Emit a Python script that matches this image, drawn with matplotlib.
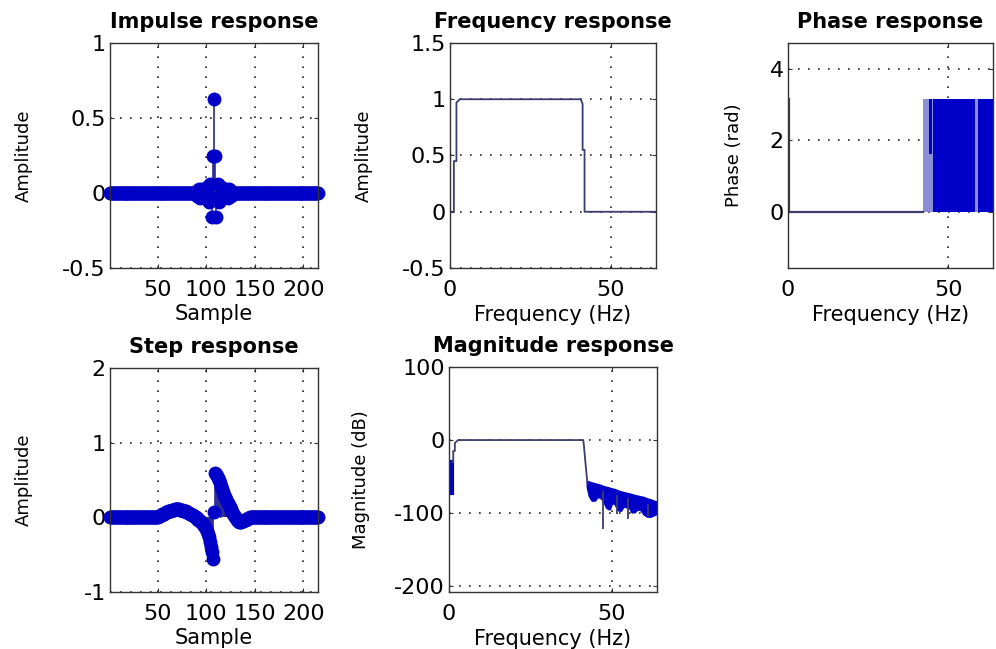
"""Filter analysis panels: impulse, step, frequency, magnitude and phase response."""

import matplotlib

matplotlib.use("Agg")
import matplotlib.pyplot as plt  # noqa: E402

# ---- data ----
n_taps = 215
samples = list(range(1, n_taps + 1))

# impulse response: samples 91..125, the rest sit on zero
impulse_core = [-0.02, 0.02, 0.03, -0.03, -0.02, 0.03, 0.01, -0.02, -0.03, 0.02, 0.04,
                -0.02, -0.06, 0.06, -0.03, -0.16, 0.25,
                0.63,
                0.25, -0.16, -0.03, 0.06, -0.06, -0.02, 0.04, 0.02, -0.03, -0.02, 0.01,
                0.03, -0.02, -0.03, 0.03, 0.02, -0.02]
impulse = [0.0] * 90 + impulse_core + [0.0] * 90

step = (
    [0.0] * 45
    + [0.01] * 5
    + [0.02, 0.02, 0.03, 0.03, 0.04, 0.05, 0.05, 0.06, 0.07, 0.07]
    + [0.08, 0.08, 0.09, 0.09, 0.10, 0.10, 0.10, 0.11, 0.11, 0.11]
    + [0.11, 0.11, 0.10, 0.10, 0.10, 0.09, 0.09, 0.08, 0.08, 0.07]
    + [0.06, 0.06, 0.05, 0.04, 0.03, 0.03, 0.02, 0.01, 0.0, -0.01]
    + [-0.02, -0.03, -0.04, -0.05, -0.06, -0.07, -0.09, -0.11, -0.13, -0.15]
    + [-0.18, -0.22, -0.27, -0.33, -0.40, -0.47, -0.56]
    + [0.07]
    + [0.60, 0.58, 0.56, 0.53, 0.50, 0.46, 0.42, 0.38, 0.34, 0.30, 0.27, 0.24]
    + [0.21, 0.19, 0.16, 0.14, 0.11, 0.09, 0.07, 0.05, 0.03, 0.01]
    + [-0.01, -0.03, -0.05, -0.06, -0.06, -0.06, -0.05, -0.05, -0.04, -0.03]
    + [-0.03, -0.02, -0.01, -0.01, 0.0]
    + [0.01] * 15
    + [0.0] * 55
)

# frequency response (linear amplitude)
freq_hz = [0.0, 1.2, 1.2, 2.0, 2.0, 3.0, 40.6, 41.2, 41.2, 41.8, 41.8, 42.4, 64.0]
freq_amp = [0.0, 0.0, 0.45, 0.45, 0.97, 1.0, 1.0, 0.96, 0.55, 0.55, 0.0, 0.0, 0.0]

# magnitude response (dB)
mag_edge_hz = [1.0, 1.0]
mag_edge_db = [-72, -30]
mag_hz = [1.0, 1.3, 1.3, 1.8, 1.8, 2.8, 41.3, 41.5, 41.5, 41.9, 41.9, 42.6]
mag_db = [-30, -30, -15, -15, -4, 0, 0, -7, -7, -27, -27, -60]
stop_hz = [42.6, 43.2, 44.0, 44.8, 45.6, 46.5, 47.5, 48.5, 49.3, 50.0, 51.0, 52.0, 52.8,
           53.6, 54.5, 55.5, 56.3, 57.0, 58.0, 59.0, 60.0, 61.0, 62.0, 63.0, 64.0]
stop_upper = [-57, -58, -59, -60, -61, -62, -64, -65, -66, -67, -68, -70, -71,
              -72, -73, -74, -75, -76, -77, -78, -79, -81, -82, -84, -85]
stop_lower = [-64, -76, -82, -82, -77, -78, -82, -92, -94, -86, -86, -95, -96,
              -90, -91, -92, -98, -98, -94, -95, -101, -104, -104, -102, -100]
null_hz = [47.4, 51.6, 55.1, 61.2]
null_top = [-70, -75, -80, -87]
null_db = [-122, -101, -108, -104]

# phase response (rad)
phase_hz = [0.3, 0.3, 0.3, 42.2]
phase_rad = [3.14, 0.0, 0.0, 0.0]
phase_light = [42.2, 64.0]
phase_dark_start = [45.3, 59.3]
phase_dark_end = [58.4, 64.0]
phase_notch = [44.1, 45.0]
phase_notch_low = 1.6
phase_top = 3.14

BLUE = "#0000c8"
STEM = "#2a2a90"
LINE = "#3c3c6e"
LIGHT = "#8c8fd6"
FRAME = "#333333"
GRID = dict(color="#222222", linestyle=(0, (1, 5)), linewidth=1.2)

plt.rcParams["font.family"] = ["DejaVu Sans"]

fig = plt.figure(figsize=(9.96, 6.49), dpi=100)
fig.patch.set_facecolor("white")

W, H = 996, 649


def make_ax(x0, x1, y0, y1):
    return fig.add_axes([x0 / W, 1 - y1 / H, (x1 - x0) / W, (y1 - y0) / H])


def style(ax, title, xlabel, ylabel, ylab_x, xlab_y):
    ax.set_title(title, fontsize=15, fontweight="bold", pad=11)
    ax.set_xlabel(xlabel, fontsize=15)
    ax.set_ylabel(ylabel, fontsize=13)
    ax.yaxis.set_label_coords(ylab_x, 0.5)
    ax.xaxis.set_label_coords(0.5, xlab_y)
    ax.tick_params(direction="in", length=3, labelsize=16, top=True, right=True,
                   color=FRAME)
    ax.tick_params(axis="x", pad=9)
    ax.tick_params(axis="y", pad=3)
    for s in ax.spines.values():
        s.set_color(FRAME)
        s.set_linewidth(1.0)
    ax.grid(True, **GRID)
    ax.set_axisbelow(True)


def stem_plot(ax, y):
    markers, stems, base = ax.stem(samples, y, linefmt="-", markerfmt="o", basefmt=" ")
    stems.set_color(STEM)
    stems.set_linewidth(1.2)
    markers.set_color(BLUE)
    markers.set_markersize(9)
    markers.set_clip_on(False)


# impulse response
ax1 = make_ax(110, 318, 43, 268)
stem_plot(ax1, impulse)
ax1.set_xlim(1, n_taps)
ax1.set_ylim(-0.5, 1)
ax1.set_xticks([50, 100, 150, 200])
ax1.set_yticks([-0.5, 0, 0.5, 1])
ax1.set_yticklabels(["-0.5", "0", "0.5", "1"])
style(ax1, "Impulse response", "Sample", "Amplitude", -0.37, -0.16)

# frequency response
ax2 = make_ax(450, 656, 43, 268)
ax2.plot(freq_hz, freq_amp, color=LINE, linewidth=1.3)
ax2.set_xlim(0, 64)
ax2.set_ylim(-0.5, 1.5)
ax2.set_xticks([0, 50])
ax2.set_yticks([-0.5, 0, 0.5, 1, 1.5])
ax2.set_yticklabels(["-0.5", "0", "0.5", "1", "1.5"])
style(ax2, "Frequency response", "Frequency (Hz)", "Amplitude", -0.374, -0.165)

# phase response
ax3 = make_ax(788, 993, 43, 268)
ax3.fill_between(phase_light, 0, phase_top, color=LIGHT, linewidth=0)
ax3.fill_between(phase_notch, phase_notch_low, phase_top, color=BLUE, linewidth=0)
for a, b in zip(phase_dark_start, phase_dark_end):
    ax3.fill_between([a, b], 0, phase_top, color=BLUE, linewidth=0)
ax3.plot(phase_hz, phase_rad, color=LINE, linewidth=1.6)
ax3.set_xlim(0, 64)
ax3.set_ylim(-1.5708, 4.7124)
ax3.set_xticks([0, 50])
ax3.set_yticks([0, 2, 4])
style(ax3, "Phase response", "Frequency (Hz)", "Phase (rad)", -0.22, -0.165)

# step response
ax4 = make_ax(110, 318, 368, 592)
stem_plot(ax4, step)
ax4.set_xlim(1, n_taps)
ax4.set_ylim(-1, 2)
ax4.set_xticks([50, 100, 150, 200])
ax4.set_yticks([-1, 0, 1, 2])
ax4.set_yticklabels(["-1", "0", "1", "2"])
style(ax4, "Step response", "Sample", "Amplitude", -0.37, -0.16)

# magnitude response
ax5 = make_ax(449, 657, 367, 592)
ax5.plot(mag_edge_hz, mag_edge_db, color=BLUE, linewidth=3)
ax5.plot(mag_hz, mag_db, color=LINE, linewidth=1.3)
ax5.fill_between(stop_hz, stop_lower, stop_upper, color=BLUE, linewidth=2.0,
                 edgecolor=BLUE)
ax5.vlines(null_hz, null_top, null_db, color=LINE, linewidth=1.3)
ax5.set_xlim(0, 64)
ax5.set_ylim(-208, 100)
ax5.set_xticks([0, 50])
ax5.set_yticks([-200, -100, 0, 100])
ax5.set_yticklabels(["-200", "-100", "0", "100"])
style(ax5, "Magnitude response", "Frequency (Hz)", "Magnitude (dB)", -0.38, -0.165)

fig.savefig("out.png", dpi=100)
plt.close(fig)
